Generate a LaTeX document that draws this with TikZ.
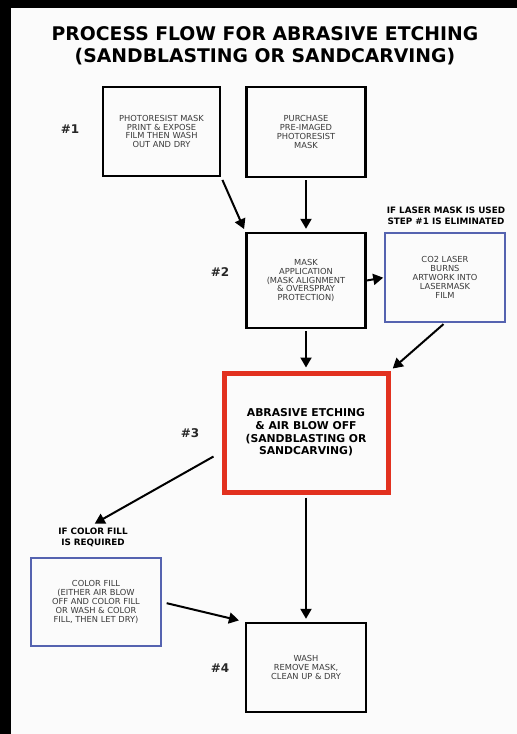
\documentclass[tikz,border=0pt]{standalone}
\usepackage{fontspec}
\setmainfont{DejaVu Sans}
\usetikzlibrary{arrows.meta}
\definecolor{etchred}{HTML}{E2311F}
\definecolor{noteblue}{HTML}{5563B0}
\definecolor{boxtext}{HTML}{3A3A3A}
\tikzset{
  stepbox/.style={draw=black, line width=2.4pt, inner sep=0pt, align=center,
    text=boxtext, font=\fontsize{8.3}{8.8}\selectfont},
  altbox/.style={stepbox, draw=noteblue, line width=1.6pt},
  etchbox/.style={draw=etchred, line width=5pt, inner sep=0pt, align=center,
    font=\bfseries\fontsize{10.8}{12.6}\selectfont},
  steplabel/.style={font=\bfseries\fontsize{12}{14}\selectfont, text=black!85},
  note/.style={align=center, font=\bfseries\fontsize{8.8}{11}\selectfont},
  flow/.style={line width=2pt, -{Triangle[length=10pt,width=11pt]}}
}
\begin{document}
\begin{tikzpicture}[x=1pt,y=-1pt]
\useasboundingbox (0,0) rectangle (517,734);
\fill[black] (0,0) rectangle (517,734);
\fill[white!97!gray] (11,8) rectangle (517,734);
% title
\node[align=center, font=\bfseries\fontsize{18.8}{22}\selectfont] (title) at (265,46)
  {PROCESS FLOW FOR ABRASIVE ETCHING\\(SANDBLASTING OR SANDCARVING)};
% step 1
\node[stepbox, minimum width=117pt, minimum height=89pt] (photo) at (161.5,131.5)
  {PHOTORESIST MASK\\PRINT \& EXPOSE\\FILM THEN WASH\\OUT AND DRY};
\node[stepbox, minimum width=119pt, minimum height=90pt] (purchase) at (306,132)
  {PURCHASE\\PRE-IMAGED\\PHOTORESIST\\MASK};
\node[steplabel] (s1) at (70,129) {\#1};
% step 2
\node[stepbox, minimum width=119pt, minimum height=95pt] (mask) at (306,280.5)
  {MASK\\APPLICATION\\(MASK ALIGNMENT\\\& OVERSPRAY\\PROTECTION)};
\node[altbox, minimum width=120pt, minimum height=89pt] (laser) at (445,277.5)
  {CO2 LASER\\BURNS\\ARTWORK INTO\\LASERMASK\\FILM};
\node[note] (lasernote) at (446,215.5) {IF LASER MASK IS USED\\STEP \#1 IS ELIMINATED};
\node[steplabel] (s2) at (220,272) {\#2};
% step 3
\node[etchbox, minimum width=164pt, minimum height=119pt] (etch) at (306,432.5)
  {ABRASIVE ETCHING\\\& AIR BLOW OFF\\(SANDBLASTING OR\\SANDCARVING)};
\node[steplabel] (s3) at (190,433) {\#3};
% colour fill
\node[note] (fillnote) at (93,537.5) {IF COLOR FILL\\IS REQUIRED};
\node[altbox, minimum width=130pt, minimum height=88pt] (fill) at (96,602)
  {COLOR FILL\\(EITHER AIR BLOW\\OFF AND COLOR FILL\\OR WASH \& COLOR\\FILL, THEN LET DRY)};
% step 4
\node[stepbox, minimum width=120pt, minimum height=89pt] (wash) at (306,667.5)
  {WASH\\REMOVE MASK,\\CLEAN UP \& DRY};
\node[steplabel] (s4) at (220,668) {\#4};
% arrows
\draw[flow, shorten <=3pt, shorten >=3pt] (photo.south east) -- (mask.north west);
\draw[flow, shorten <=2pt, shorten >=3pt] (purchase.south) -- (mask.north);
\draw[flow, shorten >=1pt] (mask.east) -- (laser.west);
\draw[flow, shorten <=2pt, shorten >=3pt] (laser.south) -- (etch.north east);
\draw[flow, shorten <=2pt, shorten >=3pt] (mask.south) -- (etch.north);
\draw[flow, shorten >=2pt] ([shift={(-8,24)}]etch.west) -- (fillnote.north);
\draw[flow, shorten <=5pt, shorten >=6pt] (fill.east) -- (wash.north west);
\draw[flow, shorten <=3pt, shorten >=3pt] (etch.south) -- (wash.north);
\end{tikzpicture}
\end{document}
